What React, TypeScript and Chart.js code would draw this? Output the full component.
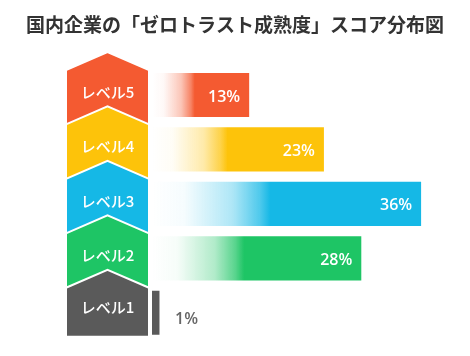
import React, { useEffect, useRef } from "react";
import { Chart, registerables } from "chart.js";

Chart.register(...registerables);

const TITLE = "国内企業の「ゼロトラスト成熟度」スコア分布図";
const LEVELS = ["レベル5", "レベル4", "レベル3", "レベル2", "レベル1"];
const VALUES = [13, 23, 36, 28, 1];
const VALUE_LABELS = ["13%", "23%", "36%", "28%", "1%"];
const COLORS = ["#F45A31", "#FDC30A", "#15B8E6", "#1EC565", "#5A5A5A"];
const X_MAX = 40;

function hexToRgba(hex: string, a: number) {
  const n = parseInt(hex.slice(1), 16);
  return `rgba(${(n >> 16) & 255},${(n >> 8) & 255},${n & 255},${a})`;
}

const levelPlugin = {
  id: "levelPlugin",
  beforeDatasetsDraw(chart: any) {
    const ctx = chart.ctx;
    const y = chart.scales.y;
    const left = 67;
    const right = 148;
    const mid = (left + right) / 2;
    ctx.save();
    // title
    ctx.fillStyle = "#333333";
    ctx.font = 'bold 19px "Noto Sans CJK JP", sans-serif';
    ctx.textAlign = "center";
    ctx.textBaseline = "middle";
    ctx.fillText(TITLE, chart.width / 2, 25);

    LEVELS.forEach((lab, i) => {
      const c = y.getPixelForValue(i);
      const apex = c - 43;
      const shoulder = c - 25;
      const bottom = i === LEVELS.length - 1 ? c + 23 : c + 40;
      ctx.beginPath();
      ctx.moveTo(left, shoulder);
      ctx.lineTo(mid, apex);
      ctx.lineTo(right, shoulder);
      ctx.lineTo(right, bottom);
      ctx.lineTo(left, bottom);
      ctx.closePath();
      ctx.fillStyle = COLORS[i];
      ctx.fill();
      ctx.lineWidth = 2;
      ctx.strokeStyle = "#ffffff";
      ctx.lineJoin = "miter";
      ctx.beginPath();
      ctx.moveTo(left - 1, shoulder);
      ctx.lineTo(mid, apex);
      ctx.lineTo(right + 1, shoulder);
      ctx.stroke();
    });
    LEVELS.forEach((lab, i) => {
      const c = y.getPixelForValue(i);
      ctx.fillStyle = "#ffffff";
      ctx.font = '500 15px "Noto Sans CJK JP", "Noto Sans", sans-serif';
      ctx.textAlign = "center";
      ctx.textBaseline = "middle";
      ctx.fillText(lab, mid, c - (i === LEVELS.length - 1 ? 5 : 3));
    });
    ctx.restore();
  },
  afterDatasetsDraw(chart: any) {
    const ctx = chart.ctx;
    const meta = chart.getDatasetMeta(0);
    ctx.save();
    ctx.font = '600 16px "Open Sans", "Noto Sans", sans-serif';
    ctx.textBaseline = "middle";
    meta.data.forEach((bar: any, i: number) => {
      if (i === LEVELS.length - 1) {
        ctx.fillStyle = "#666666";
        ctx.textAlign = "left";
        ctx.fillText(VALUE_LABELS[i], 175, bar.y + 7);
      } else {
        ctx.fillStyle = "#ffffff";
        ctx.textAlign = "right";
        ctx.fillText(VALUE_LABELS[i], bar.x - 9, bar.y + 2);
      }
    });
    ctx.restore();
  },
};

export default function App() {
  const ref = useRef<HTMLCanvasElement | null>(null);
  useEffect(() => {
    if (!ref.current) return;
    const chart = new Chart(ref.current, {
      type: "bar",
      data: {
        labels: LEVELS,
        datasets: [
          {
            data: VALUES,
            backgroundColor: (c: any) => {
              const i = c.dataIndex;
              const col = COLORS[i];
              const chart = c.chart;
              const xs = chart.scales && chart.scales.x;
              if (!xs || !chart.chartArea || i === LEVELS.length - 1 || i === undefined) return col;
              const x0 = xs.getPixelForValue(0);
              const x1 = xs.getPixelForValue(VALUES[i]);
              if (!isFinite(x0) || !isFinite(x1) || x1 <= x0) return col;
              const g = chart.ctx.createLinearGradient(x0, 0, x1, 0);
              g.addColorStop(0, hexToRgba(col, 0));
              g.addColorStop(0.12, hexToRgba(col, 0.04));
              g.addColorStop(0.3, hexToRgba(col, 0.35));
              g.addColorStop(0.4, hexToRgba(col, 0.75));
              g.addColorStop(0.44, hexToRgba(col, 1));
              g.addColorStop(1, hexToRgba(col, 1));
              return g;
            },
            borderWidth: 0,
            barPercentage: 0.81,
            categoryPercentage: 1,
          },
        ],
      },
      options: {
        indexAxis: "y",
        animation: false,
        responsive: false,
        maintainAspectRatio: false,
        layout: { padding: { left: 152, right: 19, top: 67.75, bottom: 16 } },
        scales: {
          x: { display: false, min: 0, max: X_MAX, grid: { display: false } },
          y: { display: false, grid: { display: false } },
        },
        plugins: {
          legend: { display: false },
          tooltip: { enabled: false },
          title: { display: false },
        },
      } as any,
      plugins: [levelPlugin],
    });
    return () => chart.destroy();
  }, []);
  return (
    <div style={{ position: "fixed", left: 0, top: 0, width: 470, height: 356, background: "#fff" }}>
      <canvas ref={ref} width={470} height={356} style={{ width: 470, height: 356 }} />
    </div>
  );
}
